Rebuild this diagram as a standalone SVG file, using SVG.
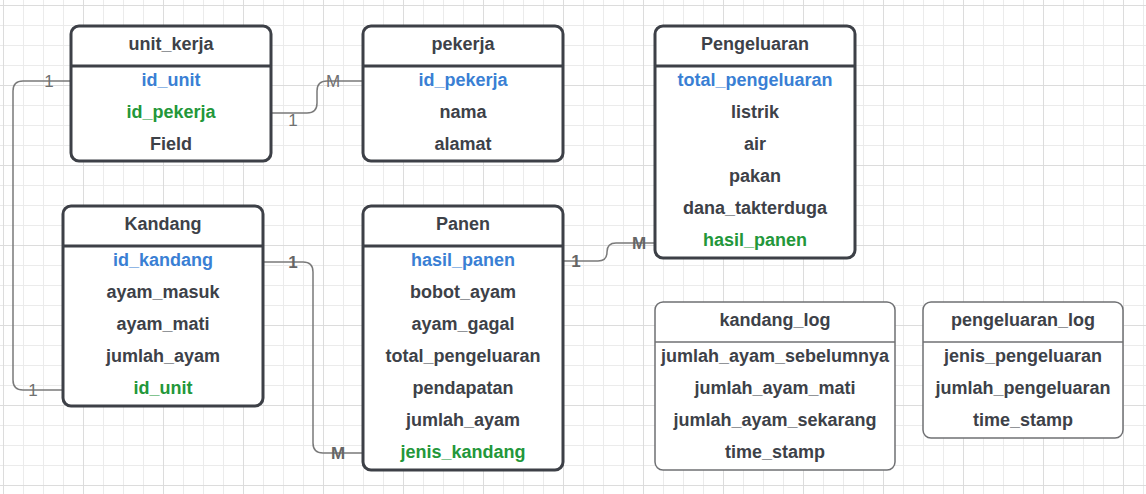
<svg xmlns="http://www.w3.org/2000/svg" width="1146" height="494" viewBox="0 0 1146 494">
<defs>
<pattern id="grid" patternUnits="userSpaceOnUse" x="3" y="5" width="80" height="80">
<path d="M20.5 0V80M40.5 0V80M60.5 0V80M0 20.5H80M0 40.5H80M0 60.5H80" stroke="#ebebeb" stroke-width="1" fill="none"/>
<path d="M0.5 0V80M0 0.5H80" stroke="#dcdcdc" stroke-width="1" fill="none"/>
</pattern>
<style>
.box{fill:#fff;stroke:#3d4047;stroke-width:3}
.div{stroke:#3d4047;stroke-width:3}
.lbox{fill:#fff;stroke:#6f7073;stroke-width:1.5}
.ldiv{stroke:#6f7073;stroke-width:1.5}
text{font-family:"Liberation Sans",Arial,sans-serif;font-weight:bold;font-size:18px;text-anchor:middle;fill:#3d4148}
.pk{fill:#3a7fd4}
.fk{fill:#23973a}
.conn{fill:none;stroke:#7a7a7a;stroke-width:1.5}
.card{font-size:17px;fill:#707070;font-weight:normal}
.cardb{font-size:17px;fill:#666}
</style>
</defs>
<rect x="0" y="0" width="1146" height="494" fill="#fff"/>
<rect x="0" y="0" width="1146" height="494" fill="url(#grid)"/>

<g id="connectors">
<path class="conn" d="M71 81H23Q13 81 13 91V380Q13 390 23 390H63"/>
<path class="conn" d="M271 113H307Q317 113 317 103V91Q317 81 327 81H363"/>
<path class="conn" d="M563 261H598Q607 261 607 252Q607 243 616 243H655"/>
<path class="conn" d="M263 262H303Q313 262 313 272V443Q313 453 323 453H363"/>
<text class="card" x="49" y="87">1</text>
<text class="card" x="33" y="396">1</text>
<text class="card" x="293" y="126">1</text>
<text class="card" x="333" y="87">M</text>
<text class="cardb" x="576" y="267">1</text>
<text class="cardb" x="639" y="249">M</text>
<text class="cardb" x="293" y="268">1</text>
<text class="cardb" x="338" y="459">M</text>
</g>

<g id="unit_kerja">
<rect class="box" x="71" y="26" width="200" height="135" rx="8"/>
<line class="div" x1="71" y1="66" x2="271" y2="66"/>
<text x="171" y="49.5">unit_kerja</text>
<text class="pk" x="171" y="85.5">id_unit</text>
<text class="fk" x="171" y="117.5">id_pekerja</text>
<text x="171" y="149.5">Field</text>
</g>

<g id="pekerja">
<rect class="box" x="363" y="26" width="200" height="135" rx="8"/>
<line class="div" x1="363" y1="66" x2="563" y2="66"/>
<text x="463" y="49.5">pekerja</text>
<text class="pk" x="463" y="85.5">id_pekerja</text>
<text x="463" y="117.5">nama</text>
<text x="463" y="149.5">alamat</text>
</g>

<g id="pengeluaran">
<rect class="box" x="655" y="26" width="200" height="232" rx="8"/>
<line class="div" x1="655" y1="66" x2="855" y2="66"/>
<text x="755" y="49.5">Pengeluaran</text>
<text class="pk" x="755" y="85.5">total_pengeluaran</text>
<text x="755" y="117.5">listrik</text>
<text x="755" y="149.5">air</text>
<text x="755" y="181.5">pakan</text>
<text x="755" y="213.5">dana_takterduga</text>
<text class="fk" x="755" y="245.5">hasil_panen</text>
</g>

<g id="kandang">
<rect class="box" x="63" y="206" width="200" height="200" rx="8"/>
<line class="div" x1="63" y1="246" x2="263" y2="246"/>
<text x="163" y="229.5">Kandang</text>
<text class="pk" x="163" y="265.5">id_kandang</text>
<text x="163" y="297.5">ayam_masuk</text>
<text x="163" y="329.5">ayam_mati</text>
<text x="163" y="361.5">jumlah_ayam</text>
<text class="fk" x="163" y="393.5">id_unit</text>
</g>

<g id="panen">
<rect class="box" x="363" y="206" width="200" height="264" rx="8"/>
<line class="div" x1="363" y1="246" x2="563" y2="246"/>
<text x="463" y="229.5">Panen</text>
<text class="pk" x="463" y="265.5">hasil_panen</text>
<text x="463" y="297.5">bobot_ayam</text>
<text x="463" y="329.5">ayam_gagal</text>
<text x="463" y="361.5">total_pengeluaran</text>
<text x="463" y="393.5">pendapatan</text>
<text x="463" y="425.5">jumlah_ayam</text>
<text class="fk" x="463" y="457.5">jenis_kandang</text>
</g>

<g id="kandang_log">
<rect class="lbox" x="655" y="302" width="240" height="168" rx="8"/>
<line class="ldiv" x1="655" y1="342" x2="895" y2="342"/>
<text x="775" y="325.5">kandang_log</text>
<text x="775" y="361.5">jumlah_ayam_sebelumnya</text>
<text x="775" y="393.5">jumlah_ayam_mati</text>
<text x="775" y="425.5">jumlah_ayam_sekarang</text>
<text x="775" y="457.5">time_stamp</text>
</g>

<g id="pengeluaran_log">
<rect class="lbox" x="923" y="302" width="200" height="136" rx="8"/>
<line class="ldiv" x1="923" y1="342" x2="1123" y2="342"/>
<text x="1023" y="325.5">pengeluaran_log</text>
<text x="1023" y="361.5">jenis_pengeluaran</text>
<text x="1023" y="393.5">jumlah_pengeluaran</text>
<text x="1023" y="425.5">time_stamp</text>
</g>
</svg>
